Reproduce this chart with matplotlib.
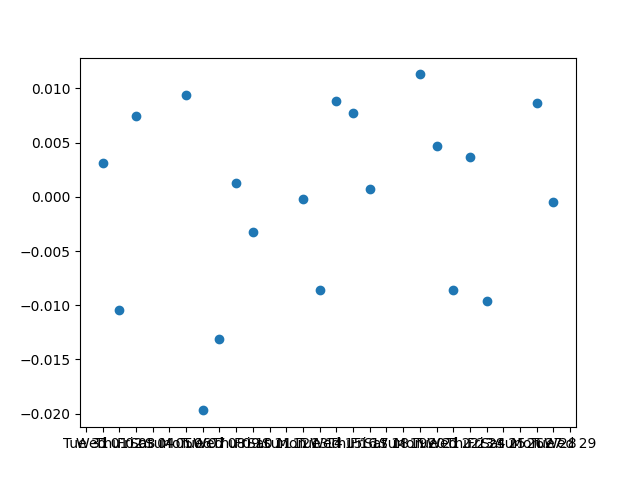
import matplotlib
matplotlib.use("Agg")
import matplotlib.pyplot as plt
import matplotlib.dates as mdates
import numpy as np

dates = ['2020-01-01', '2020-01-02', '2020-01-03',
         '2020-01-06', '2020-01-07', '2020-01-08', '2020-01-09', '2020-01-10',
         '2020-01-13', '2020-01-14', '2020-01-15', '2020-01-16', '2020-01-17',
         '2020-01-20', '2020-01-21', '2020-01-22', '2020-01-23', '2020-01-24',
         '2020-01-27', '2020-01-28']
values = [0.0031, -0.0104, 0.0075,
          0.0094, -0.0197, -0.0131, 0.0013, -0.0032,
          -0.0002, -0.0086, 0.0088, 0.0077, 0.0007,
          0.0113, 0.0047, -0.0086, 0.0037, -0.0096,
          0.0087, -0.0005]

x = np.array(dates, dtype='datetime64[D]')

fig, ax = plt.subplots(figsize=(6.4, 4.8), dpi=100)
ax.plot(x, values, 'o')
ax.xaxis.set_major_locator(mdates.DayLocator())
ax.xaxis.set_major_formatter(mdates.DateFormatter('%a %d'))

fig.savefig('out.png')
